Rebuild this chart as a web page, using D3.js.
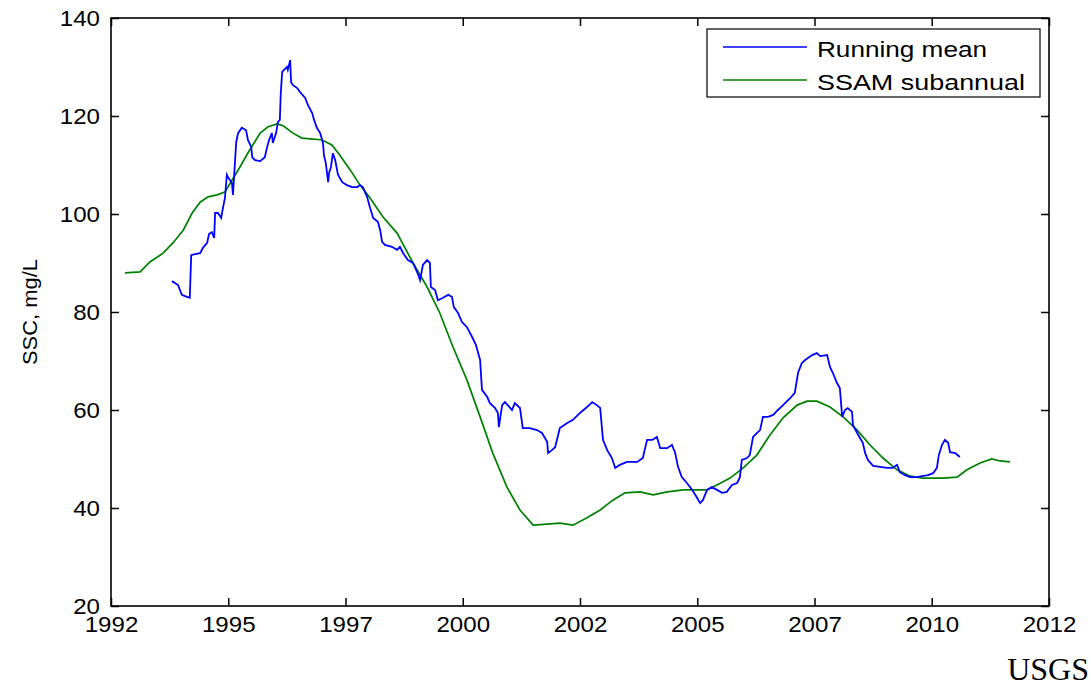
<!DOCTYPE html>
<html>
<head>
<meta charset="utf-8">
<script src="https://cdn.jsdelivr.net/npm/d3@7"></script>
<style>
  body { margin: 0; background: #fff; }
  svg { display: block; }
</style>
</head>
<body>
<svg></svg>
<script>
// tick positions fall every 2.5 years, labels as printed on the original
const tickYears = [1992, 1994.5, 1997, 1999.5, 2002, 2004.5, 2007, 2009.5, 2012];
const tickLabels = ["1992", "1995", "1997", "2000", "2002", "2005", "2007", "2010", "2012"];
const yTicks = [20, 40, 60, 80, 100, 120, 140];

// Running mean (blue)
const runYears = [1993.30, 1993.43, 1993.51, 1993.62, 1993.68, 1993.71, 1993.79, 1993.90, 1993.96, 1994.05,
  1994.09, 1994.15, 1994.20, 1994.22, 1994.28, 1994.35, 1994.39, 1994.43, 1994.47, 1994.49,
  1994.58, 1994.60, 1994.62, 1994.67, 1994.71, 1994.79, 1994.88, 1994.92, 1994.99, 1995.01,
  1995.07, 1995.18, 1995.28, 1995.33, 1995.37, 1995.43, 1995.45, 1995.52, 1995.56, 1995.60,
  1995.62, 1995.65, 1995.69, 1995.75, 1995.77, 1995.82, 1995.84, 1995.88, 1995.97, 1996.03,
  1996.14, 1996.20, 1996.29, 1996.33, 1996.39, 1996.46, 1996.52, 1996.54, 1996.58, 1996.63,
  1996.65, 1996.69, 1996.73, 1996.78, 1996.84, 1996.93, 1997.03, 1997.14, 1997.25, 1997.31,
  1997.37, 1997.46, 1997.52, 1997.59, 1997.69, 1997.74, 1997.78, 1997.84, 1997.99, 1998.10,
  1998.16, 1998.23, 1998.33, 1998.44, 1998.55, 1998.59, 1998.65, 1998.74, 1998.80, 1998.82,
  1998.91, 1998.97, 1999.08, 1999.19, 1999.27, 1999.31, 1999.40, 1999.48, 1999.59, 1999.70,
  1999.78, 1999.87, 1999.91, 2000.02, 2000.08, 2000.19, 2000.25, 2000.27, 2000.34, 2000.40,
  2000.46, 2000.55, 2000.61, 2000.72, 2000.78, 2000.93, 2001.08, 2001.19, 2001.30, 2001.32,
  2001.40, 2001.47, 2001.57, 2001.72, 2001.85, 2002.00, 2002.15, 2002.26, 2002.36, 2002.43,
  2002.49, 2002.58, 2002.68, 2002.75, 2002.85, 2003.00, 2003.22, 2003.34, 2003.43, 2003.54,
  2003.64, 2003.71, 2003.86, 2003.96, 2004.03, 2004.09, 2004.17, 2004.28, 2004.39, 2004.49,
  2004.56, 2004.62, 2004.71, 2004.81, 2004.92, 2005.03, 2005.13, 2005.24, 2005.35, 2005.41,
  2005.45, 2005.56, 2005.62, 2005.69, 2005.77, 2005.84, 2005.90, 2006.01, 2006.12, 2006.22,
  2006.33, 2006.48, 2006.58, 2006.65, 2006.73, 2006.80, 2006.86, 2006.95, 2007.05, 2007.12,
  2007.27, 2007.33, 2007.39, 2007.48, 2007.54, 2007.59, 2007.65, 2007.71, 2007.80, 2007.82,
  2007.91, 2007.97, 2008.03, 2008.08, 2008.14, 2008.25, 2008.40, 2008.55, 2008.67, 2008.76,
  2008.82, 2008.93, 2009.04, 2009.19, 2009.29, 2009.42, 2009.53, 2009.61, 2009.65, 2009.72,
  2009.78, 2009.85, 2009.89, 2010.00, 2010.10];
const runValues = [86.3, 85.5, 83.5, 83.1, 82.9, 91.6, 91.8, 92.0, 93.1, 94.1,
  95.9, 96.3, 95.1, 100.2, 100.2, 99.2, 101.4, 103.3, 108.0, 107.6,
  106.3, 103.9, 106.9, 114.7, 116.5, 117.6, 117.1, 115.1, 113.7, 111.6,
  111.0, 110.8, 111.6, 113.7, 115.1, 116.5, 114.5, 116.5, 118.8, 119.2,
  124.7, 129.0, 129.4, 130.0, 129.4, 131.4, 126.9, 126.3, 125.7, 124.9,
  123.7, 122.2, 120.6, 119.2, 117.6, 116.5, 114.5, 112.0, 110.4, 106.5,
  108.4, 109.6, 112.4, 111.0, 108.0, 106.5, 105.9, 105.5, 105.5, 105.9,
  105.5, 103.5, 101.4, 99.2, 98.4, 96.7, 94.3, 93.7, 93.3, 92.7,
  93.3, 92.0, 90.6, 90.0, 87.6, 86.5, 89.6, 90.6, 90.0, 85.1,
  84.5, 82.4, 82.9, 83.5, 83.1, 81.0, 79.8, 78.0, 76.9, 74.9,
  73.3, 70.2, 64.1, 62.7, 61.4, 60.4, 59.4, 56.5, 61.0, 61.6,
  61.0, 60.0, 61.4, 60.4, 56.3, 56.3, 55.9, 55.3, 53.5, 51.2,
  51.8, 52.4, 56.3, 57.3, 58.0, 59.4, 60.6, 61.6, 61.0, 60.4,
  53.9, 51.8, 50.2, 48.2, 48.8, 49.4, 49.4, 50.2, 53.9, 53.9,
  54.5, 52.2, 52.2, 52.9, 51.2, 48.4, 46.3, 45.1, 43.7, 42.2,
  41.0, 41.6, 43.7, 44.3, 43.7, 43.1, 43.3, 44.7, 45.1, 46.3,
  49.8, 50.2, 50.8, 54.5, 55.3, 55.9, 58.6, 58.6, 59.0, 60.0,
  61.0, 62.4, 63.5, 67.6, 69.6, 70.2, 70.6, 71.2, 71.6, 71.0,
  71.2, 68.8, 67.6, 65.5, 64.5, 58.6, 60.0, 60.4, 59.6, 56.9,
  55.3, 54.3, 53.3, 51.2, 49.8, 48.6, 48.4, 48.2, 48.2, 48.8,
  47.3, 46.7, 46.3, 46.3, 46.5, 46.7, 47.1, 48.2, 50.8, 52.9,
  53.9, 53.3, 51.4, 51.2, 50.4];

// SSAM subannual (green)
const ssamYears = [1992.30, 1992.62, 1992.83, 1993.11, 1993.32, 1993.54, 1993.73, 1993.90, 1994.07, 1994.26,
  1994.43, 1994.58, 1994.75, 1994.96, 1995.18, 1995.35, 1995.54, 1995.67, 1995.88, 1996.07,
  1996.31, 1996.50, 1996.71, 1996.88, 1997.10, 1997.31, 1997.52, 1997.80, 1998.10, 1998.44,
  1998.74, 1999.01, 1999.29, 1999.59, 1999.87, 2000.14, 2000.44, 2000.72, 2001.00, 2001.30,
  2001.57, 2001.85, 2002.15, 2002.43, 2002.70, 2002.96, 2003.28, 2003.56, 2003.86, 2004.20,
  2004.71, 2004.92, 2005.20, 2005.48, 2005.77, 2006.05, 2006.33, 2006.63, 2006.84, 2007.05,
  2007.33, 2007.61, 2007.91, 2008.18, 2008.46, 2008.76, 2009.04, 2009.31, 2009.74, 2010.04,
  2010.25, 2010.53, 2010.78, 2010.96, 2011.17];
const ssamValues = [88.0, 88.2, 90.2, 92.0, 94.1, 96.7, 100.2, 102.4, 103.5, 103.9,
  104.5, 106.9, 109.6, 113.1, 116.5, 117.8, 118.4, 118.0, 116.5, 115.5,
  115.3, 115.1, 114.1, 112.0, 109.0, 105.9, 103.3, 99.4, 96.1, 90.0,
  85.1, 79.8, 72.9, 66.1, 58.6, 51.2, 44.3, 39.6, 36.5, 36.7,
  36.9, 36.5, 38.0, 39.6, 41.6, 43.1, 43.3, 42.7, 43.3, 43.7,
  43.7, 44.7, 46.1, 48.2, 50.8, 54.9, 58.4, 61.0, 61.8, 61.8,
  60.6, 58.6, 55.9, 52.9, 50.2, 47.8, 46.5, 46.1, 46.1, 46.3,
  47.8, 49.2, 50.0, 49.6, 49.4];

const width = 1091, height = 684;
const margin = {left: 111, right: 42, top: 18, bottom: 78};
const font = "'Liberation Sans', Arial, sans-serif";

const svg = d3.select("svg")
  .attr("width", width)
  .attr("height", height);

const x = d3.scaleLinear().domain([1992, 2012]).range([margin.left, width - margin.right]);
const y = d3.scaleLinear().domain([20, 140]).range([height - margin.bottom, margin.top]);

const blueLine = d3.line().x((d, i) => x(runYears[i])).y(d => y(d));
const greenLine = d3.line().x((d, i) => x(ssamYears[i])).y(d => y(d));

svg.append("path")
  .attr("d", greenLine(ssamValues))
  .attr("fill", "none")
  .attr("stroke", "#008000")
  .attr("stroke-width", 1.7);

svg.append("path")
  .attr("d", blueLine(runValues))
  .attr("fill", "none")
  .attr("stroke", "#0000ff")
  .attr("stroke-width", 1.8);

// axes, ticks pointing inward on all four sides
// the original's glyphs are a bit wider than Arial, so stretch them a little
function styleAxis(g) {
  g.select(".domain").remove();
  g.selectAll(".tick line").attr("stroke", "#000").attr("stroke-width", 1.5);
  g.selectAll(".tick text")
    .attr("fill", "#000")
    .attr("font-family", font)
    .attr("font-size", 22)
    .attr("lengthAdjust", "spacingAndGlyphs")
    .attr("textLength", function() { return this.textContent.length * 13.4; });
}

svg.append("g")
  .attr("transform", `translate(0,${height - margin.bottom})`)
  .call(d3.axisBottom(x).tickValues(tickYears).tickSize(-8).tickPadding(10)
    .tickFormat((d, i) => tickLabels[i]))
  .call(styleAxis);

svg.append("g")
  .attr("transform", `translate(0,${margin.top})`)
  .call(d3.axisTop(x).tickValues(tickYears).tickSize(-8).tickFormat(""))
  .call(styleAxis);

svg.append("g")
  .attr("transform", `translate(${margin.left},0)`)
  .call(d3.axisLeft(y).tickValues(yTicks).tickSize(-8).tickPadding(11))
  .call(styleAxis);

svg.append("g")
  .attr("transform", `translate(${width - margin.right},0)`)
  .call(d3.axisRight(y).tickValues(yTicks).tickSize(-8).tickFormat(""))
  .call(styleAxis);

svg.append("rect")
  .attr("x", margin.left)
  .attr("y", margin.top)
  .attr("width", width - margin.left - margin.right)
  .attr("height", height - margin.top - margin.bottom)
  .attr("fill", "none")
  .attr("stroke", "#000")
  .attr("stroke-width", 1.6);

// y label
svg.append("text")
  .attr("transform", `translate(37,${(margin.top + height - margin.bottom) / 2}) rotate(-90)`)
  .attr("text-anchor", "middle")
  .attr("font-family", font)
  .attr("font-size", 20)
  .attr("lengthAdjust", "spacingAndGlyphs")
  .attr("textLength", 106)
  .text("SSC, mg/L");

// legend
const legend = svg.append("g").attr("transform", "translate(707,29)");
legend.append("rect")
  .attr("width", 333).attr("height", 68)
  .attr("fill", "#fff").attr("stroke", "#000").attr("stroke-width", 1.2);
const legendItems = [
  {label: "Running mean", color: "#0000ff", len: 170},
  {label: "SSAM subannual", color: "#008000", len: 208}
];
legendItems.forEach((item, i) => {
  legend.append("line")
    .attr("x1", 16).attr("x2", 100)
    .attr("y1", 18 + i * 33).attr("y2", 18 + i * 33)
    .attr("stroke", item.color).attr("stroke-width", 1.6);
  legend.append("text")
    .attr("x", 110).attr("y", 28 + i * 33)
    .attr("font-family", font).attr("font-size", 22)
    .attr("lengthAdjust", "spacingAndGlyphs")
    .attr("textLength", item.len)
    .text(item.label);
});

// source note
svg.append("text")
  .attr("x", 1089).attr("y", 680)
  .attr("text-anchor", "end")
  .attr("font-family", "'Liberation Serif', 'Times New Roman', serif")
  .attr("font-size", 32)
  .text("USGS");
</script>
</body>
</html>
